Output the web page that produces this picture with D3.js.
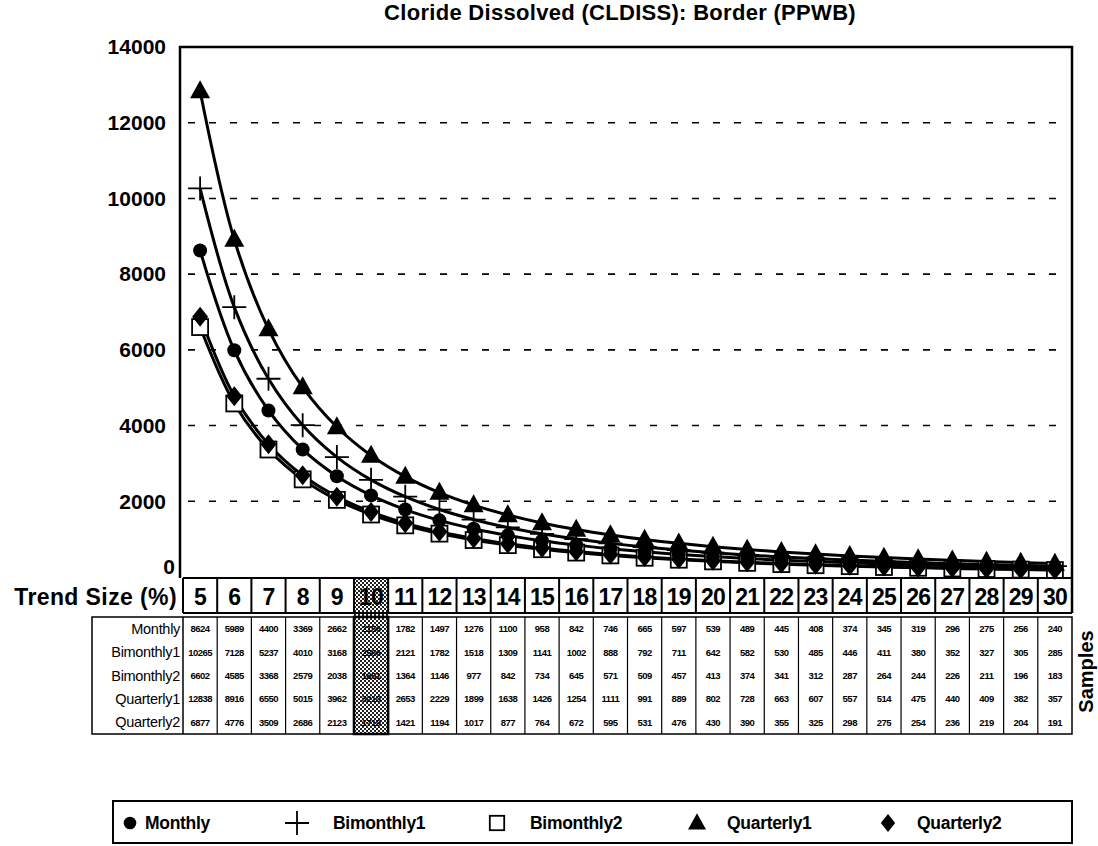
<!DOCTYPE html>
<html>
<head>
<meta charset="utf-8">
<script src="https://cdn.jsdelivr.net/npm/d3@7"></script>
<style>
  html, body { margin: 0; padding: 0; background: #fff; }
  svg { display: block; }
  text { font-family: "Liberation Sans", Arial, sans-serif; fill: #000; }
</style>
</head>
<body>
<svg id="chart" width="1098" height="846"></svg>
<script>
// Trend sizes (%) along the x axis
const trendSizes = [5, 6, 7, 8, 9, 10, 11, 12, 13, 14, 15, 16, 17, 18, 19, 20, 21, 22, 23, 24, 25, 26, 27, 28, 29, 30];

// Required number of samples per sampling scheme
const monthly     = [8624, 5989, 4400, 3369, 2662, 2156, 1782, 1497, 1276, 1100, 958, 842, 746, 665, 597, 539, 489, 445, 408, 374, 345, 319, 296, 275, 256, 240];
const bimonthly1  = [10265, 7128, 5237, 4010, 3168, 2566, 2121, 1782, 1518, 1309, 1141, 1002, 888, 792, 711, 642, 582, 530, 485, 446, 411, 380, 352, 327, 305, 285];
const bimonthly2  = [6602, 4585, 3368, 2579, 2038, 1651, 1364, 1146, 977, 842, 734, 645, 571, 509, 457, 413, 374, 341, 312, 287, 264, 244, 226, 211, 196, 183];
const quarterly1  = [12838, 8916, 6550, 5015, 3962, 3210, 2653, 2229, 1899, 1638, 1426, 1254, 1111, 991, 889, 802, 728, 663, 607, 557, 514, 475, 440, 409, 382, 357];
const quarterly2  = [6877, 4776, 3509, 2686, 2123, 1719, 1421, 1194, 1017, 877, 764, 672, 595, 531, 476, 430, 390, 355, 325, 298, 275, 254, 236, 219, 204, 191];

const seriesNames = ["Monthly", "Bimonthly1", "Bimonthly2", "Quarterly1", "Quarterly2"];
const seriesValues = [monthly, bimonthly1, bimonthly2, quarterly1, quarterly2];
const seriesSymbols = ["circle", "plus", "square", "triangle", "diamond"];

const yTicks = [0, 2000, 4000, 6000, 8000, 10000, 12000, 14000];
const highlightSize = 10;

const titleText = "Cloride Dissolved (CLDISS): Border (PPWB)";

const svg = d3.select("#chart");
svg.append("rect").attr("width", 1098).attr("height", 846).attr("fill", "#fff");

// Layout
const plotLeft = 180, plotRight = 1072, plotTop = 47, plotBottom = 577;
const colLeft = 183;
const headTop = 578, headBottom = 613;
const tableTop = 617, rowH = 23.4;
const tableBottom = tableTop + rowH * 5;
const labelLeft = 92;

const x = d3.scaleBand().domain(trendSizes).range([colLeft, plotRight]).paddingInner(0).paddingOuter(0);
const y = d3.scaleLinear().domain([0, 14000]).range([plotBottom, plotTop]);
const cx = d => x(d) + x.bandwidth() / 2;

// Dotted fill for the highlighted column
const defs = svg.append("defs");
const pat = defs.append("pattern").attr("id", "dots").attr("patternUnits", "userSpaceOnUse")
  .attr("width", 4).attr("height", 4);
pat.append("rect").attr("width", 4).attr("height", 4).attr("fill", "#fff");
pat.append("rect").attr("x", 0).attr("y", 0).attr("width", 2).attr("height", 2).attr("fill", "#222");
pat.append("rect").attr("x", 2).attr("y", 2).attr("width", 2).attr("height", 2).attr("fill", "#222");

// Title
svg.append("text").attr("x", 620).attr("y", 20).attr("text-anchor", "middle")
  .attr("font-size", 22).attr("font-weight", "bold").attr("letter-spacing", 0.3).text(titleText);

// Gridlines
svg.append("g").selectAll("line").data(yTicks.filter(t => t > 0 && t < 14000)).join("line")
  .attr("x1", plotLeft + 8).attr("x2", plotRight - 6)
  .attr("y1", d => y(d)).attr("y2", d => y(d))
  .attr("stroke", "#000").attr("stroke-width", 1.6).attr("stroke-dasharray", "7,14");

// Y axis
const yAxis = d3.axisLeft(y).tickValues(yTicks).tickSize(0).tickPadding(14).tickFormat(d3.format("d"));
const yg = svg.append("g").attr("transform", `translate(${plotLeft},0)`).call(yAxis);
yg.select(".domain").remove();
yg.selectAll("text").attr("font-size", 21).attr("font-weight", "bold")
  .attr("font-family", "'Liberation Sans', Arial, sans-serif");
yg.selectAll(".tick").filter(d => d === 0).select("text").attr("dy", "-0.15em").attr("x", -5);

// Plot frame
svg.append("path").attr("fill", "none").attr("stroke", "#000").attr("stroke-width", 2.5)
  .attr("d", `M${plotLeft},${plotBottom + 1}V${plotTop}H${plotRight}V${headBottom}`);

// Series lines
const line = d3.line().x(d => cx(d[0])).y(d => y(d[1])).curve(d3.curveCatmullRom.alpha(0.5));
const drawOrder = [2, 4, 0, 1, 3];
drawOrder.forEach(i => {
  const pts = trendSizes.map((t, j) => [t, seriesValues[i][j]]);
  svg.append("path").datum(pts).attr("d", line).attr("fill", "none")
    .attr("stroke", "#000").attr("stroke-width", 3);
});

// Marker shapes
function drawMarker(g, type, px, py, scale = 1) {
  if (type === "circle") {
    g.append("circle").attr("cx", px).attr("cy", py).attr("r", 7 * scale).attr("fill", "#000");
  } else if (type === "plus") {
    const s = 12 * scale;
    g.append("path").attr("d", `M${px - s},${py}H${px + s}M${px},${py - s}V${py + s}`)
      .attr("stroke", "#000").attr("stroke-width", 1.8).attr("fill", "none");
  } else if (type === "square") {
    const s = 8 * scale;
    g.append("rect").attr("x", px - s).attr("y", py - s).attr("width", 2 * s).attr("height", 2 * s)
      .attr("fill", "#fff").attr("stroke", "#000").attr("stroke-width", 1.8);
  } else if (type === "triangle") {
    const w = 10 * scale, h = 18 * scale;
    g.append("path").attr("d", `M${px},${py - h * 0.6}L${px + w},${py + h * 0.4}L${px - w},${py + h * 0.4}Z`)
      .attr("fill", "#000");
  } else if (type === "diamond") {
    const w = 8 * scale, h = 10 * scale;
    g.append("path").attr("d", `M${px},${py - h}L${px + w},${py}L${px},${py + h}L${px - w},${py}Z`)
      .attr("fill", "#000");
  }
}

const markers = svg.append("g");
drawOrder.forEach(i => {
  trendSizes.forEach((t, j) => drawMarker(markers, seriesSymbols[i], cx(t), y(seriesValues[i][j])));
});

// Header row with trend sizes
const head = svg.append("g");
head.append("rect").attr("x", x(highlightSize)).attr("y", headTop).attr("width", x.bandwidth())
  .attr("height", tableBottom - headTop).attr("fill", "url(#dots)");
head.append("path").attr("fill", "none").attr("stroke", "#000").attr("stroke-width", 2)
  .attr("d", `M${colLeft},${headTop}H${plotRight}M${colLeft},${headBottom}H${plotRight}`);
head.selectAll("line.sep").data(trendSizes).join("line").attr("class", "sep")
  .attr("x1", d => x(d)).attr("x2", d => x(d)).attr("y1", headTop).attr("y2", headBottom)
  .attr("stroke", "#000").attr("stroke-width", 2);
head.selectAll("text.ts").data(trendSizes).join("text").attr("class", "ts")
  .attr("x", d => cx(d)).attr("y", headBottom - 8).attr("text-anchor", "middle")
  .attr("font-size", 23).attr("font-weight", "bold").attr("letter-spacing", -0.8).text(d => d);
svg.append("text").attr("x", 177).attr("y", headBottom - 8).attr("text-anchor", "end")
  .attr("font-size", 23).attr("font-weight", "bold").attr("letter-spacing", 0.4).text("Trend Size (%)");

// Data table
const table = svg.append("g");
table.append("path").attr("fill", "none").attr("stroke", "#000").attr("stroke-width", 1.5)
  .attr("d", `M${labelLeft},${tableTop}H${plotRight}V${tableBottom}H${labelLeft}Z`);
table.append("line").attr("x1", colLeft).attr("x2", colLeft).attr("y1", tableTop).attr("y2", tableBottom)
  .attr("stroke", "#000").attr("stroke-width", 1.5);
table.selectAll("line.vsep").data(trendSizes.slice(1)).join("line").attr("class", "vsep")
  .attr("x1", d => x(d)).attr("x2", d => x(d)).attr("y1", tableTop).attr("y2", tableBottom)
  .attr("stroke", "#000").attr("stroke-width", 1.2);
table.append("rect").attr("x", x(highlightSize)).attr("y", tableTop).attr("width", x.bandwidth())
  .attr("height", tableBottom - tableTop).attr("fill", "none").attr("stroke", "#000").attr("stroke-width", 2.5);

seriesNames.forEach((name, i) => {
  const ry = tableTop + rowH * i + rowH / 2;
  table.append("text").attr("x", colLeft - 3).attr("y", ry + 5).attr("text-anchor", "end")
    .attr("font-size", 14.5).attr("letter-spacing", -0.3).text(name);
  table.selectAll(`text.v${i}`).data(trendSizes).join("text").attr("class", `v${i}`)
    .attr("x", d => cx(d)).attr("y", ry + 3.5).attr("text-anchor", "middle")
    .attr("font-size", 9.5).attr("font-weight", "bold").attr("letter-spacing", -0.5)
    .text((d, j) => seriesValues[i][j]);
});

svg.append("text").attr("transform", `translate(1093,${(tableTop + tableBottom) / 2 - 4}) rotate(-90)`)
  .attr("text-anchor", "middle").attr("font-size", 20).attr("font-weight", "bold").text("Samples");

// Legend
const legend = svg.append("g");
legend.append("rect").attr("x", 113).attr("y", 801).attr("width", 959).attr("height", 42)
  .attr("fill", "#fff").attr("stroke", "#000").attr("stroke-width", 2);
const legendX = [130, 297, 497, 697, 888];
const legendTextX = [145, 333, 530, 727, 917];
seriesNames.forEach((name, i) => {
  drawMarker(legend, seriesSymbols[i], legendX[i], 823, i === 1 ? 1 : 0.9);
  legend.append("text").attr("x", legendTextX[i]).attr("y", 829)
    .attr("font-size", 17.5).attr("font-weight", "bold").attr("letter-spacing", -0.3).text(name);
});
</script>
</body>
</html>
